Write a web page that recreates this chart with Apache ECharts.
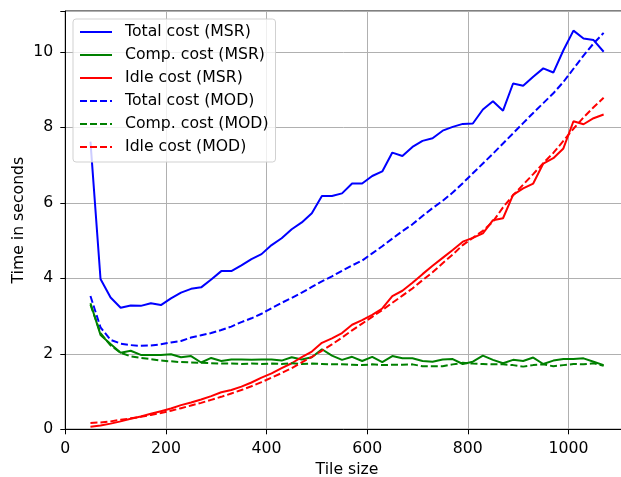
<!DOCTYPE html>
<html>
<head>
<meta charset="utf-8">
<script src="https://cdn.jsdelivr.net/npm/echarts@6/dist/echarts.min.js"></script>
<style>
html,body{margin:0;padding:0;background:#fff;}
#chart{width:621px;height:477px;}
</style>
</head>
<body>
<div id="chart"></div>
<script>
const tileSizes = [50,70,90,110,130,150,170,190,210,230,250,270,290,310,330,350,370,390,410,430,450,470,490,510,530,550,570,590,610,630,650,670,690,710,730,750,770,790,810,830,850,870,890,910,930,950,970,990,1010,1030,1050,1070];

const totalMSR = [7.62,3.98,3.49,3.22,3.28,3.27,3.34,3.29,3.47,3.62,
 3.72,3.76,3.97,4.19,4.19,4.34,4.51,4.64,4.88,5.06,
 5.30,5.48,5.72,6.18,6.18,6.25,6.51,6.51,6.71,6.83,
 7.33,7.24,7.48,7.64,7.71,7.91,8.01,8.09,8.10,8.47,
 8.69,8.44,9.16,9.10,9.34,9.56,9.45,10.04,10.56,10.35,
 10.31,10.00];

const compMSR = [3.34,2.50,2.26,2.03,2.08,1.97,1.97,1.97,1.99,1.91,
 1.94,1.77,1.89,1.81,1.85,1.85,1.84,1.85,1.85,1.82,
 1.91,1.85,1.91,2.12,1.95,1.84,1.92,1.81,1.92,1.78,
 1.94,1.88,1.88,1.81,1.79,1.85,1.86,1.73,1.79,1.95,
 1.84,1.75,1.84,1.81,1.90,1.73,1.82,1.86,1.86,1.88,
 1.79,1.70];

const idleMSR = [0.07,0.10,0.15,0.21,0.28,0.34,0.41,0.48,0.55,0.64,
 0.71,0.79,0.88,0.98,1.04,1.13,1.24,1.37,1.48,1.62,
 1.75,1.91,2.06,2.29,2.41,2.55,2.77,2.89,3.03,3.20,
 3.53,3.67,3.88,4.11,4.33,4.54,4.75,4.97,5.07,5.19,
 5.54,5.59,6.21,6.38,6.51,7.04,7.18,7.44,8.16,8.08,
 8.24,8.34];

const totalMOD = [3.53,2.70,2.37,2.27,2.23,2.21,2.22,2.25,2.30,2.34,
 2.43,2.49,2.55,2.63,2.72,2.84,2.94,3.06,3.21,3.35,
 3.48,3.62,3.77,3.92,4.05,4.20,4.34,4.47,4.66,4.85,
 5.05,5.25,5.43,5.65,5.86,6.05,6.27,6.52,6.78,7.04,
 7.30,7.57,7.84,8.11,8.38,8.64,8.90,9.20,9.55,9.90,
 10.22,10.50];

const compMOD = [3.30,2.55,2.22,2.03,1.93,1.89,1.86,1.82,1.80,1.78,
 1.77,1.76,1.75,1.74,1.74,1.73,1.74,1.73,1.74,1.73,
 1.75,1.73,1.74,1.73,1.72,1.72,1.71,1.70,1.72,1.70,
 1.71,1.71,1.72,1.67,1.67,1.67,1.72,1.76,1.74,1.73,
 1.72,1.72,1.70,1.66,1.70,1.72,1.67,1.70,1.73,1.72,
 1.75,1.68];

const idleMOD = [0.17,0.18,0.21,0.25,0.29,0.33,0.38,0.43,0.49,0.56,
 0.63,0.70,0.78,0.86,0.95,1.04,1.14,1.25,1.37,1.49,
 1.62,1.77,1.92,2.08,2.25,2.43,2.62,2.80,2.98,3.16,
 3.35,3.54,3.73,3.95,4.16,4.40,4.63,4.88,5.07,5.26,
 5.50,5.88,6.20,6.48,6.76,7.05,7.32,7.64,7.96,8.26,
 8.53,8.78];

const seriesNames = ['Total cost (MSR)','Comp. cost (MSR)','Idle cost (MSR)','Total cost (MOD)','Comp. cost (MOD)','Idle cost (MOD)'];
const xTicks = [0,200,400,600,800,1000];
const yTicks = [0,2,4,6,8,10];

const FONT = 'DejaVu Sans';
const FS = 15.7;
function pairs(arr){ return tileSizes.map((x,i)=>[x,arr[i]]); }
function mk(name, arr, color, dashed){
  return {
    name: name, type: 'line', data: pairs(arr),
    showSymbol: false, symbol: 'none', silent: true,
    lineStyle: {color: color, width: 2, type: dashed ? [7,3] : 'solid'},
    itemStyle: {color: color}
  };
}
const chart = echarts.init(document.getElementById('chart'), null, {renderer:'canvas'});
const axisCommon = {
  axisLine: {show: true, lineStyle: {color: '#000', width: 1}},
  axisTick: {show: true, inside: false, length: 5, lineStyle: {color: '#000', width: 1}},
  splitLine: {show: true, lineStyle: {color: '#b0b0b0', width: 1}},
  nameMoveOverlap: false,
  nameTextStyle: {fontFamily: FONT, fontSize: FS, color: '#000'}
};
chart.setOption({
  animation: false,
  backgroundColor: '#fff',
  grid: {left: 65.3, width: 563.5, top: 11, bottom: 47.7, show: true, borderColor: '#000', borderWidth: 1,
    backgroundColor: 'transparent', containLabel: false, outerBoundsMode: 'none'},
  xAxis: Object.assign({
    type: 'value', min: 0, max: 1120, interval: 200,
    name: 'Tile size', nameLocation: 'middle', nameGap: 33,
    axisLabel: {fontFamily: FONT, fontSize: FS, color: '#000', margin: 12,
      formatter: v => xTicks.indexOf(v) >= 0 ? String(v) : ''}
  }, axisCommon),
  yAxis: Object.assign({
    type: 'value', min: 0, max: 11.08, interval: 2,
    name: 'Time in seconds', nameLocation: 'middle', nameGap: 38,
    axisLabel: {fontFamily: FONT, fontSize: FS, color: '#000', margin: 12,
      formatter: v => yTicks.indexOf(v) >= 0 ? String(v) : ''}
  }, axisCommon),
  legend: {
    show: true, orient: 'vertical', left: 73, top: 19,
    data: seriesNames,
    itemWidth: 32, itemHeight: 16, itemGap: 7,
    padding: [5, 7, 7, 6],
    backgroundColor: 'rgba(255,255,255,0.8)',
    borderColor: 'rgba(204,204,204,0.9)', borderWidth: 1, borderRadius: 3,
    itemStyle: {opacity: 0},
    textStyle: {fontFamily: FONT, fontSize: FS, color: '#000', lineHeight: 16, padding: [0,0,0,8]},
    selectedMode: false
  },
  series: [
    mk(seriesNames[0], totalMSR, '#0000ff', false),
    mk(seriesNames[1], compMSR, '#008000', false),
    mk(seriesNames[2], idleMSR, '#ff0000', false),
    mk(seriesNames[3], totalMOD, '#0000ff', true),
    mk(seriesNames[4], compMOD, '#008000', true),
    mk(seriesNames[5], idleMOD, '#ff0000', true)
  ]
});
</script>
</body>
</html>
